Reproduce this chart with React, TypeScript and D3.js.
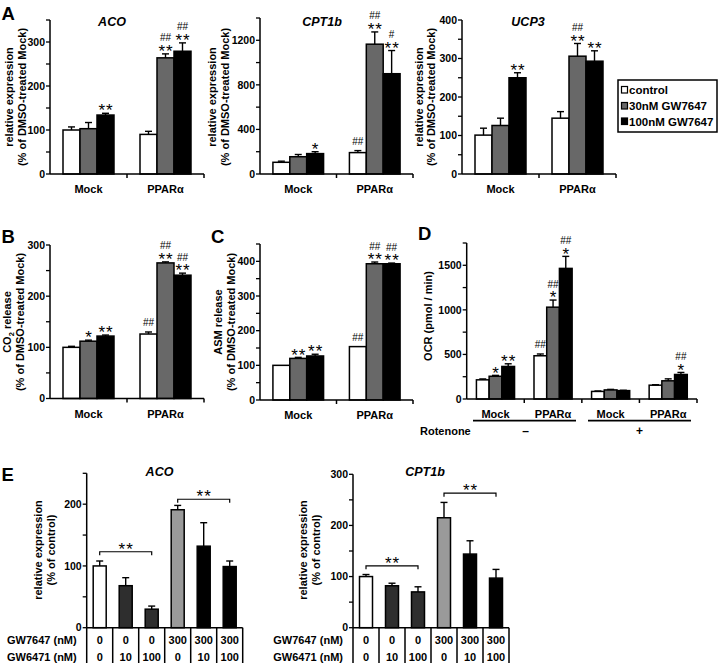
import React from "react";
import * as d3 from "d3";

const FONT = "'Liberation Sans', Arial, Helvetica, sans-serif";

// ---------- data ----------
const groupsAB = ["Mock", "PPARα"];
const seriesNames = ["control", "30nM GW7647", "100nM GW7647"];
const seriesFills = ["#ffffff", "#686868", "#000000"];

const acoValues = [[100, 103, 134], [90, 264, 279]];
const acoErrors = [[107, 117, 138], [97, 273, 298]];
const acoMarks = [["", "", "**"], ["", "##\n**", "##\n**"]];

const cptValues = [[105, 155, 183], [192, 1165, 900]];
const cptErrors = [[115, 175, 200], [210, 1275, 1108]];
const cptMarks = [["", "", "*"], ["##", "##\n**", "#\n**"]];

const ucpValues = [[101, 126, 250], [145, 306, 293]];
const ucpErrors = [[119, 145, 263], [162, 339, 320]];
const ucpMarks = [["", "", "**"], ["", "##\n**", "**"]];

const co2Values = [[100, 112, 122], [126, 265, 241]];
const co2Errors = [[102, 114, 124], [130, 267, 245]];
const co2Marks = [["", "*", "**"], ["##", "##\n**", "##\n**"]];

const asmValues = [[100, 120, 127], [154, 393, 393]];
const asmErrors = [[100, 123, 132], [154, 398, 395]];
const asmMarks = [["", "**", "**"], ["##", "##\n**", "##\n**"]];

const ocrGroups = ["Mock", "PPARα", "Mock", "PPARα"];
const rotenoneLevels = ["–", "+"];
const ocrValues = [[215, 255, 365], [485, 1030, 1465], [85, 102, 94], [155, 204, 275]];
const ocrErrors = [[225, 265, 395], [505, 1110, 1600], [90, 108, 98], [160, 226, 298]];
const ocrMarks = [["", "*", "**"], ["##", "##\n*", "##\n*"], ["", "", ""], ["", "", "##\n*"]];

const eGW7647 = ["0", "0", "0", "300", "300", "300"];
const eGW6471 = ["0", "10", "100", "0", "10", "100"];
const eTreatment = ["control", "antagonist", "antagonist", "agonist", "both", "both"];
const eAcoValues = [100, 68, 30, 191, 132, 99];
const eAcoErrors = [108, 81, 35, 198, 170, 108];
const eAcoBrackets = [[0, 2, 123, "**"], [3, 5, 208, "**"]];
const eCptValues = [100, 82, 70, 215, 144, 97];
const eCptErrors = [104, 87, 80, 245, 170, 114];
const eCptBrackets = [[0, 2, 121, "**"], [3, 5, 263, "**"]];

const eFill: Record<string, string> = {
  control: "#ffffff",
  antagonist: "#2e2e2e",
  agonist: "#9a9a9a",
  both: "#000000",
};

const STAR_SIZE = 17;

// ---------- helpers ----------
function Marks({ x, y, text }: { x: number; y: number; text: string }) {
  if (!text) return null;
  const lines = text.split("\n").reverse();
  let center = y;
  return (
    <g>
      {lines.map((ln, i) => {
        const isStar = ln.includes("*");
        center = i === 0 ? y - (isStar ? 6.7 : 9) : center - 9.3;
        const base = center + (isStar ? 0.58 * STAR_SIZE : 3.5);
        return (
          <text
            key={i}
            x={x + (isStar ? 0.5 : 0)}
            y={base}
            textAnchor="middle"
            fontSize={isStar ? STAR_SIZE : 10}
            letterSpacing={isStar ? 1 : 0}
            fontWeight="normal"
          >
            {ln}
          </text>
        );
      })}
    </g>
  );
}

function YLabel({ x, y, children, size = 11 }: any) {
  return (
    <text
      transform={`translate(${x},${y}) rotate(-90)`}
      textAnchor="middle"
      dy="0.35em"
      fontSize={size}
      fontWeight="bold"
    >
      {children}
    </text>
  );
}

function YAxis({ axisX, y0, yTop, max, major, minor }: any) {
  const y = d3.scaleLinear().domain([0, max]).range([y0, yTop]);
  const minorTicks = d3.range(0, max + 0.001, minor);
  const majorTicks = d3.range(0, max + 0.001, major);
  return (
    <g>
      <line x1={axisX} x2={axisX} y1={y0} y2={yTop} stroke="#000" strokeWidth={1.5} />
      {minorTicks.map((t) => (
        <line key={t} x1={axisX - 4} x2={axisX} y1={y(t)} y2={y(t)} stroke="#000" strokeWidth={1.3} />
      ))}
      {majorTicks.map((t) => (
        <text key={t} x={axisX - 5} y={y(t)} dy="0.36em" textAnchor="end" fontSize={10.5} fontWeight="bold">
          {t}
        </text>
      ))}
    </g>
  );
}

function BarPanel(p: any) {
  const y = d3.scaleLinear().domain([0, p.max]).range([p.y0, p.yTop]);
  const gx = d3.scaleBand<number>().domain(d3.range(p.groups.length)).range([p.axisX, p.x1]);
  const sx = d3
    .scaleBand<number>()
    .domain(d3.range(3))
    .range([0, gx.bandwidth()])
    .paddingInner(0)
    .paddingOuter(0.765);
  const bw = sx.bandwidth();
  return (
    <g>
      {p.groups.map((g: string, gi: number) => (
        <g key={gi}>
          {p.values[gi].map((v: number, si: number) => {
            const bx = (gx(gi) as number) + (sx(si) as number);
            const cx = bx + bw / 2;
            const e = p.errors[gi][si];
            return (
              <g key={si}>
                <rect
                  x={bx}
                  y={y(v)}
                  width={bw}
                  height={p.y0 - y(v)}
                  fill={seriesFills[si]}
                  stroke="#000"
                  strokeWidth={1.5}
                />
                {e > v && (
                  <g stroke="#000" strokeWidth={1.4}>
                    <line x1={cx} x2={cx} y1={y(v)} y2={y(e)} />
                    <line x1={cx - 3.5} x2={cx + 3.5} y1={y(e)} y2={y(e)} />
                  </g>
                )}
                <Marks x={cx} y={y(Math.max(e, v))} text={p.marks[gi][si]} />
              </g>
            );
          })}
          <text
            x={(gx(gi) as number) + gx.bandwidth() / 2}
            y={p.y0 + 19}
            textAnchor="middle"
            fontSize={11}
            fontWeight="bold"
          >
            {g}
          </text>
          <line
            x1={(gx(gi) as number) + gx.bandwidth()}
            x2={(gx(gi) as number) + gx.bandwidth()}
            y1={p.y0}
            y2={p.y0 + 4}
            stroke="#000"
            strokeWidth={1.5}
          />
        </g>
      ))}
      <line x1={p.axisX} x2={p.x1} y1={p.y0} y2={p.y0} stroke="#000" strokeWidth={1.5} />
      <YAxis axisX={p.axisX} y0={p.y0} yTop={p.yTop} max={p.max} major={p.major} minor={p.minor} />
    </g>
  );
}

function EPanel(p: any) {
  const colW = 26;
  const x1 = p.axisX + colW * 6;
  const tableBottom = 663;
  const y = d3.scaleLinear().domain([0, p.max]).range([p.y0, p.yTop]);
  const bx = d3
    .scaleBand<number>()
    .domain(d3.range(6))
    .range([p.axisX, x1])
    .paddingInner(0.5)
    .paddingOuter(0.25);
  const bw = bx.bandwidth();
  const cx = (i: number) => (bx(i) as number) + bw / 2;
  return (
    <g>
      {p.values.map((v: number, i: number) => {
        const e = p.errors[i];
        return (
          <g key={i}>
            <rect
              x={bx(i)}
              y={y(v)}
              width={bw}
              height={p.y0 - y(v)}
              fill={eFill[eTreatment[i]]}
              stroke="#000"
              strokeWidth={1.5}
            />
            <g stroke="#000" strokeWidth={1.4}>
              <line x1={cx(i)} x2={cx(i)} y1={y(v)} y2={y(e)} />
              <line x1={cx(i) - 3.5} x2={cx(i) + 3.5} y1={y(e)} y2={y(e)} />
            </g>
          </g>
        );
      })}
      {p.brackets.map((b: any, i: number) => {
        const by = y(b[2]);
        return (
          <g key={i}>
            <path
              d={`M${cx(b[0])},${by + 3.5}V${by}H${cx(b[1])}V${by + 3.5}`}
              fill="none"
              stroke="#000"
              strokeWidth={1.2}
            />
            <Marks x={(cx(b[0]) + cx(b[1])) / 2} y={by} text={b[3]} />
          </g>
        );
      })}
      <line x1={p.axisX} x2={x1} y1={p.y0} y2={p.y0} stroke="#000" strokeWidth={1.5} />
      {d3.range(7).map((k) => (
        <line
          key={k}
          x1={p.axisX + k * colW}
          x2={p.axisX + k * colW}
          y1={p.y0}
          y2={tableBottom}
          stroke="#000"
          strokeWidth={1.5}
        />
      ))}
      {eGW7647.map((t, i) => (
        <text key={"a" + i} x={p.axisX + (i + 0.5) * colW} y={644} textAnchor="middle" fontSize={11} fontWeight="bold">
          {t}
        </text>
      ))}
      {eGW6471.map((t, i) => (
        <text key={"b" + i} x={p.axisX + (i + 0.5) * colW} y={661} textAnchor="middle" fontSize={11} fontWeight="bold">
          {t}
        </text>
      ))}
      <text x={p.axisX - 10} y={644} textAnchor="end" fontSize={11} fontWeight="bold">
        GW7647 (nM)
      </text>
      <text x={p.axisX - 10} y={661} textAnchor="end" fontSize={11} fontWeight="bold">
        GW6471 (nM)
      </text>
      <YAxis axisX={p.axisX} y0={p.y0} yTop={p.yTop} max={p.max} major={100} minor={50} />
      <text x={p.titleX} y={476} textAnchor="middle" fontSize={12.5} fontWeight="bold" fontStyle="italic">
        {p.title}
      </text>
      <YLabel x={p.labelX[0]} y={550}>relative expression</YLabel>
      <YLabel x={p.labelX[1]} y={550}>(% of control)</YLabel>
    </g>
  );
}

function PanelLetter({ x, y, children }: any) {
  return (
    <text x={x} y={y} fontSize={18.5} fontWeight="bold">
      {children}
    </text>
  );
}

export default function App() {
  return (
    <svg
      width={719}
      height={667}
      style={{ position: "absolute", left: 0, top: 0, background: "#fff" }}
      fontFamily={FONT}
    >
      <rect width={719} height={667} fill="#fff" />
      {/* Panel A */}
      <PanelLetter x={1.5} y={20}>A</PanelLetter>
      <BarPanel axisX={50} x1={204} y0={174} yTop={20} max={350} major={100} minor={50}
        groups={groupsAB} values={acoValues} errors={acoErrors} marks={acoMarks} />
      <text x={112} y={25.7} textAnchor="middle" fontSize={12.5} fontWeight="bold" fontStyle="italic">ACO</text>
      <YLabel x={9} y={97}>relative expression</YLabel>
      <YLabel x={22} y={97}>(% of DMSO-treated Mock)</YLabel>

      <BarPanel axisX={260} x1={413} y0={174} yTop={18} max={1400} major={400} minor={200}
        groups={groupsAB} values={cptValues} errors={cptErrors} marks={cptMarks} />
      <text x={322} y={25.7} textAnchor="middle" fontSize={12.5} fontWeight="bold" fontStyle="italic">CPT1b</text>
      <YLabel x={212} y={97}>relative expression</YLabel>
      <YLabel x={225} y={97}>(% of DMSO-treated Mock)</YLabel>

      <BarPanel axisX={462} x1={616} y0={174} yTop={20} max={400} major={100} minor={50}
        groups={groupsAB} values={ucpValues} errors={ucpErrors} marks={ucpMarks} />
      <text x={528} y={25.7} textAnchor="middle" fontSize={12.5} fontWeight="bold" fontStyle="italic">UCP3</text>
      <YLabel x={419} y={97}>relative expression</YLabel>
      <YLabel x={431} y={97}>(% of DMSO-treated Mock)</YLabel>

      {/* Legend */}
      <rect x={618} y={80} width={99} height={52} fill="#fff" stroke="#000" strokeWidth={1.5} />
      {seriesNames.map((s, i) => {
        const base = [94, 110, 125.5][i];
        return (
          <g key={s}>
            <rect x={621.5} y={base - 7.5} width={6} height={6.5} fill={seriesFills[i]} stroke="#000" strokeWidth={1.2} />
            <text x={629} y={base} fontSize={11.5} fontWeight="bold">{s}</text>
          </g>
        );
      })}

      {/* Panel B */}
      <PanelLetter x={1.5} y={243}>B</PanelLetter>
      <BarPanel axisX={50} x1={204} y0={398.5} yTop={245} max={300} major={100} minor={50}
        groups={groupsAB} values={co2Values} errors={co2Errors} marks={co2Marks} />
      <YLabel x={7} y={322}>
        CO<tspan fontSize={7.5} dy="3">2</tspan><tspan dy="-3"> release</tspan>
      </YLabel>
      <YLabel x={20} y={322}>(% of DMSO-treated Mock)</YLabel>

      {/* Panel C */}
      <PanelLetter x={211} y={243}>C</PanelLetter>
      <BarPanel axisX={260} x1={413} y0={400} yTop={244} max={450} major={100} minor={50}
        groups={groupsAB} values={asmValues} errors={asmErrors} marks={asmMarks} />
      <YLabel x={218} y={322}>ASM release</YLabel>
      <YLabel x={231} y={322}>(% of DMSO-treated Mock)</YLabel>

      {/* Panel D */}
      <PanelLetter x={418} y={240}>D</PanelLetter>
      <BarPanel axisX={466.7} x1={697} y0={399} yTop={243} max={1750} major={500} minor={250}
        groups={ocrGroups} values={ocrValues} errors={ocrErrors} marks={ocrMarks} />
      <YLabel x={428} y={316}>OCR (pmol / min)</YLabel>
      <line x1={473} x2={576} y1={420.7} y2={420.7} stroke="#000" strokeWidth={1.8} />
      <line x1={588} x2={691} y1={420.7} y2={420.7} stroke="#000" strokeWidth={1.8} />
      <text x={420} y={435} fontSize={11} fontWeight="bold">Rotenone</text>
      <text x={525.5} y={435} textAnchor="middle" fontSize={12} fontWeight="bold">{rotenoneLevels[0]}</text>
      <text x={639.5} y={435} textAnchor="middle" fontSize={12} fontWeight="bold">{rotenoneLevels[1]}</text>

      {/* Panel E */}
      <PanelLetter x={1.5} y={481}>E</PanelLetter>
      <EPanel axisX={86.7} y0={627.7} yTop={473.3} max={250} values={eAcoValues} errors={eAcoErrors}
        brackets={eAcoBrackets} title="ACO" titleX={159.5} labelX={[38, 51]} />
      <EPanel axisX={353} y0={627.7} yTop={474.3} max={300} values={eCptValues} errors={eCptErrors}
        brackets={eCptBrackets} title="CPT1b" titleX={425} labelX={[303, 316]} />
    </svg>
  );
}
